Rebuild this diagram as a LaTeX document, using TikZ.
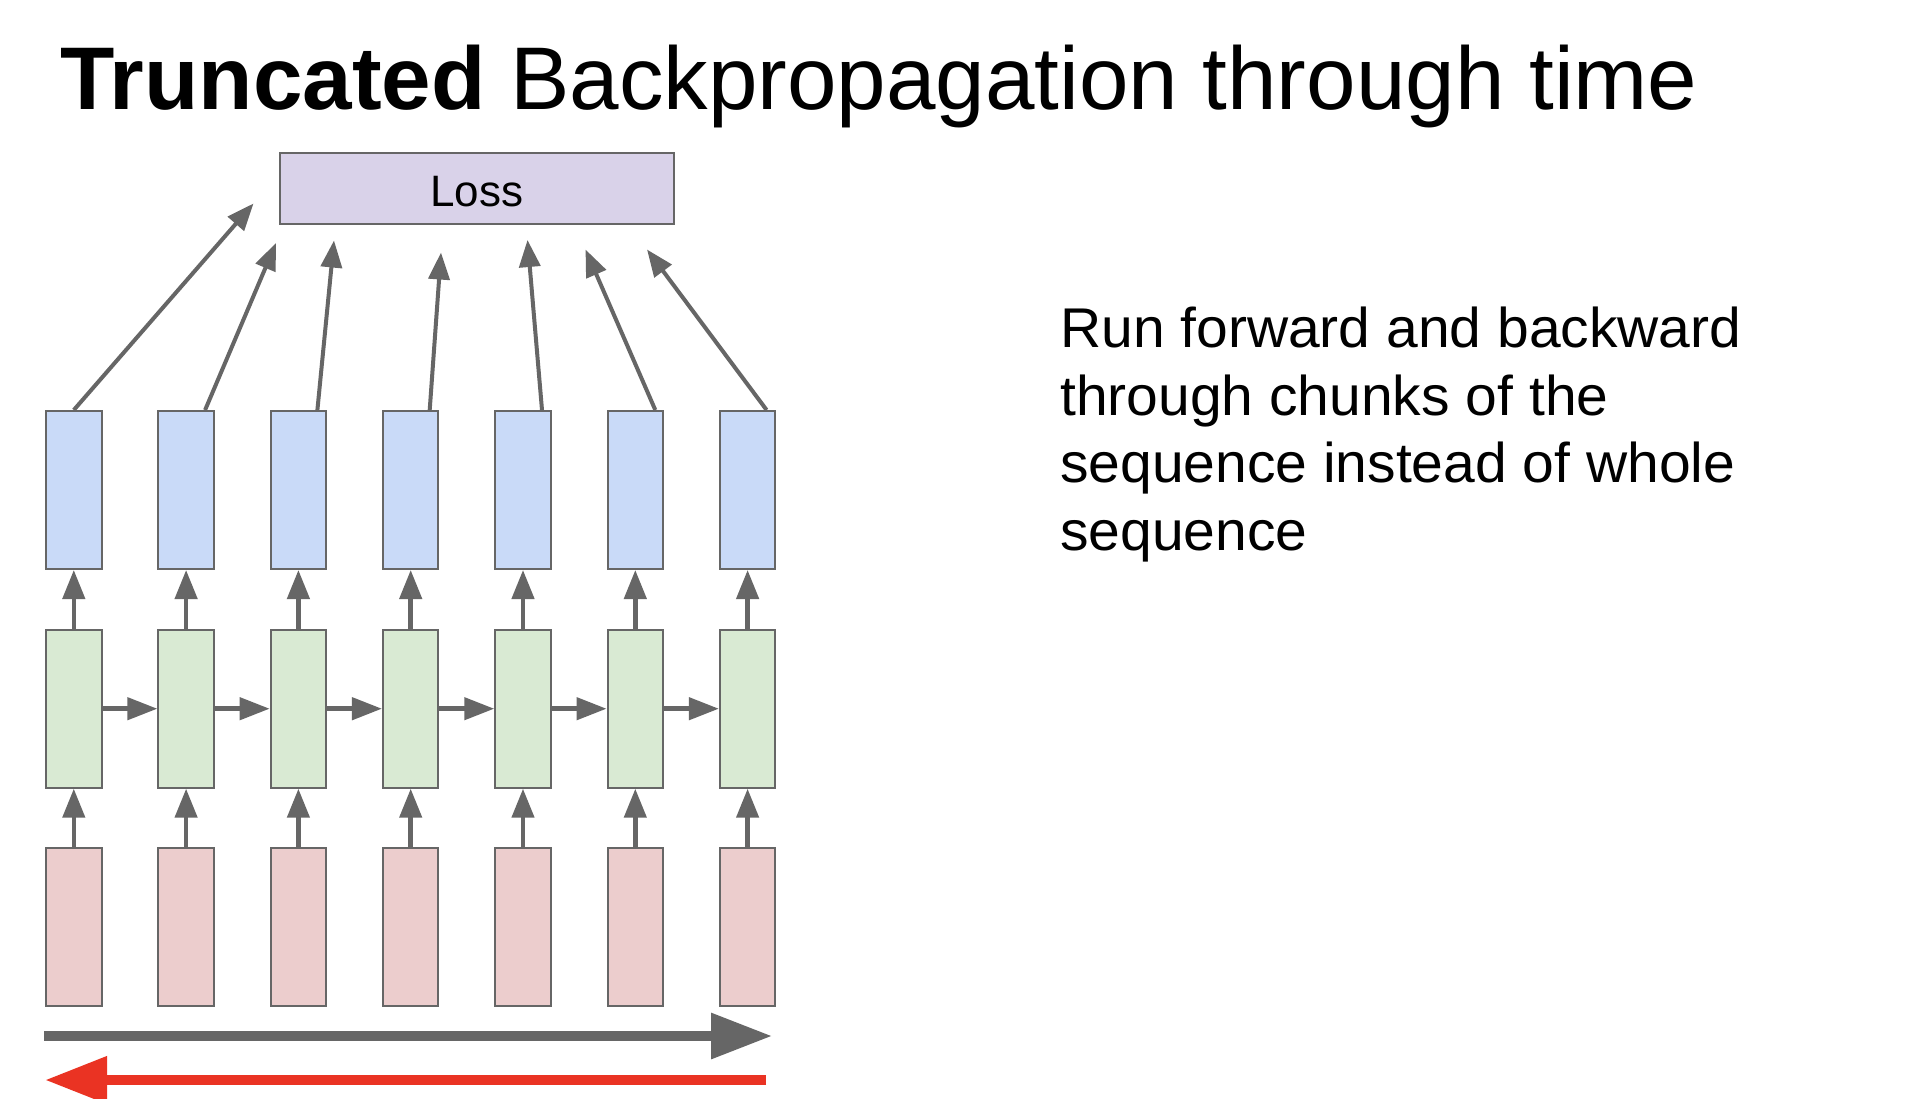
\documentclass[tikz,border=0pt]{standalone}
\usepackage{fontspec}
\setmainfont{Liberation Sans}
\newfontfamily\descfont[FakeStretch=1.018]{Liberation Sans}
\usetikzlibrary{arrows.meta}
\definecolor{edgegray}{HTML}{666666}
\definecolor{arrgray}{HTML}{666666}
\definecolor{bluefill}{HTML}{C9DAF8}
\definecolor{greenfill}{HTML}{D9EAD3}
\definecolor{redfill}{HTML}{ECCDCD}
\definecolor{lossfill}{HTML}{D9D2E9}
\definecolor{backred}{HTML}{EA3323}
\begin{document}
\begin{tikzpicture}[x=1pt,y=-1pt,
  cell/.style={draw=edgegray, line width=2pt, minimum width=55.5pt, minimum height=158pt, inner sep=0pt},
  bluecell/.style={cell, fill=bluefill},
  greencell/.style={cell, fill=greenfill},
  redcell/.style={cell, fill=redfill},
  lossarrow/.style={draw=arrgray, line width=4pt, -{Triangle[length=27pt,width=21pt]}},
  uparrow/.style={draw=arrgray, line width=4.5pt, -{Triangle[length=29pt,width=22pt]}},
  rightarrow/.style={draw=arrgray, line width=4.5pt, -{Triangle[length=30pt,width=22pt]}},
  txt/.style={inner sep=0pt, anchor=base west, text=black}
]
\useasboundingbox (0,0) rectangle (1916,1098);
\fill[white] (0,0) rectangle (1916,1098);

% title
\node[txt] (title) at (60,109.3) {\fontsize{89}{100}\selectfont\textbf{Truncated} Backpropagation through time};

% loss
\node[draw=edgegray, line width=2pt, fill=lossfill, minimum width=394pt, minimum height=71pt, inner sep=0pt] (loss) at (477,188.8) {};
\node[txt, anchor=base] (losstext) at (477,206.7) {\fontsize{44}{50}\selectfont Loss};

% cells
\foreach \i in {1,...,7} {
  \pgfmathsetmacro{\cx}{73.8+112.3*(\i-1)}
  \node[bluecell] (b\i) at (\cx,490) {};
  \node[greencell] (g\i) at (\cx,708.7) {};
  \node[redcell] (r\i) at (\cx,927) {};
}

% vertical arrows
\foreach \i in {1,...,7} {
  \draw[uparrow] (r\i.north) -- (g\i.south);
  \draw[uparrow] (g\i.north) -- (b\i.south);
}
% horizontal arrows
\foreach \i/\j in {1/2,2/3,3/4,4/5,5/6,6/7} {
  \draw[rightarrow] (g\i.east) -- (g\j.west);
}

% loss arrow tips
\coordinate (t1) at (253.5,203.5);
\coordinate (t2) at (276,243);
\coordinate (t3) at (334,240.5);
\coordinate (t4) at (441,252.5);
\coordinate (t5) at (527.5,240);
\coordinate (t6) at (585.5,249.5);
\coordinate (t7) at (647,249.5);
\draw[lossarrow] (b1.north) -- (t1);
\draw[lossarrow] ([xshift=19pt]b2.north) -- (t2);
\draw[lossarrow] ([xshift=19pt]b3.north) -- (t3);
\draw[lossarrow] ([xshift=19pt]b4.north) -- (t4);
\draw[lossarrow] ([xshift=19pt]b5.north) -- (t5);
\draw[lossarrow] ([xshift=20pt]b6.north) -- (t6);
\draw[lossarrow] ([xshift=19pt]b7.north) -- (t7);

% forward / backward arrows
\coordinate (fs) at (44,1036);
\coordinate (fe) at (772,1036);
\coordinate (bs) at (766,1080);
\coordinate (be) at (45,1080);
\draw[draw=arrgray, line width=9.5pt, -{Triangle[length=61pt,width=44pt]}] (fs) -- (fe);
\draw[draw=backred, line width=10.5pt, -{Triangle[length=62pt,width=45pt]}] (bs) -- (be);

% description
\node[txt] (d1) at (1060,347) {\descfont\fontsize{56}{67}\selectfont Run forward and backward};
\node[txt] (d2) at (1060,415) {\descfont\fontsize{56}{67}\selectfont through chunks of the};
\node[txt] (d3) at (1060,482.7) {\descfont\fontsize{56}{67}\selectfont sequence instead of whole};
\node[txt] (d4) at (1060,550) {\descfont\fontsize{56}{67}\selectfont sequence};
\end{tikzpicture}
\end{document}
